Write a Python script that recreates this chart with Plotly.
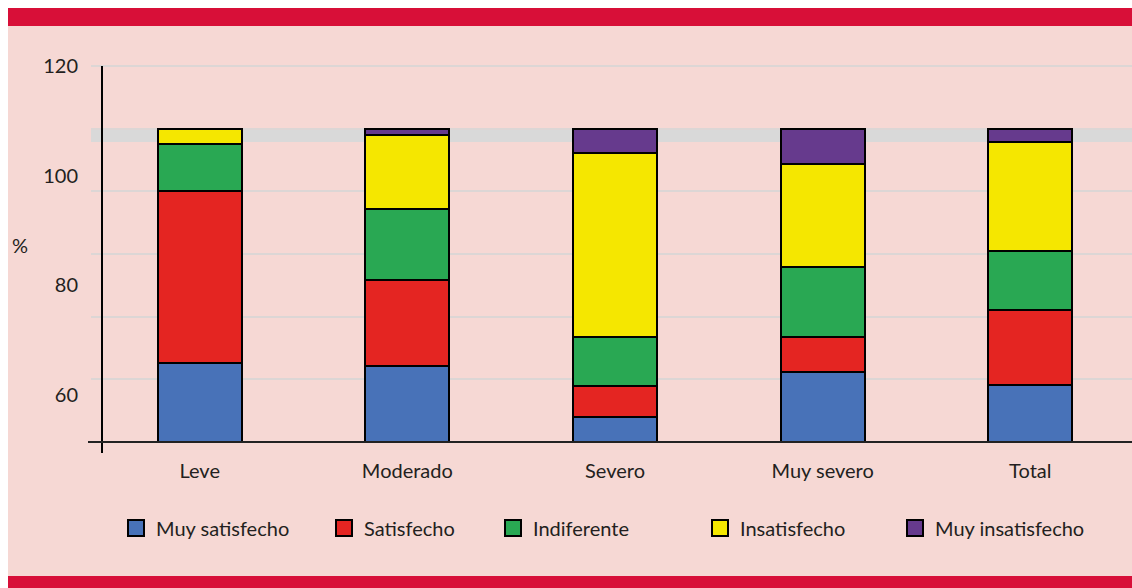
import plotly.graph_objects as go

categories = ["Leve", "Moderado", "Severo", "Muy severo", "Total"]
series_names = ["Muy satisfecho", "Satisfecho", "Indiferente", "Insatisfecho", "Muy insatisfecho"]
muy_satisfecho = [25.2, 24.2, 7.9, 22.3, 18.1]
satisfecho = [54.8, 27.6, 9.9, 11.1, 23.9]
indiferente = [15.0, 22.4, 15.6, 22.3, 18.8]
insatisfecho = [5.0, 23.9, 58.7, 33.0, 34.8]
muy_insatisfecho = [0.0, 1.9, 7.9, 11.3, 4.4]
y_tick_labels = [60, 80, 100, 120]

series_values = [muy_satisfecho, satisfecho, indiferente, insatisfecho, muy_insatisfecho]
colors = ["#4872b8", "#e42522", "#29a853", "#f5e700", "#663a8d"]

W, H = 1132, 588
L, R, T, B = 91, 0, 63, 146
PW = W - L - R
PH = H - T - B


def px_x(p):
    return (p - L) / PW


def px_y(p):
    return (H - B - p) / PH


FONT = "Lato"
TXT = "#231f20"

fig = go.Figure()
for name, vals, col in zip(series_names, series_values, colors):
    fig.add_trace(go.Bar(
        x=categories, y=vals, name=name, showlegend=False,
        marker=dict(color=col, line=dict(color="#000000", width=2)),
    ))

legend_x = [130, 338, 507, 714, 909]
for i, (name, col) in enumerate(zip(series_names, colors)):
    lg = "legend" if i == 0 else f"legend{i + 1}"
    fig.add_trace(go.Scatter(
        x=[None], y=[None], mode="markers", name=name, legend=lg, yaxis="y2",
        marker=dict(symbol="square", size=16, color=col, line=dict(color="#000000", width=2)),
    ))

legend_common = dict(
    orientation="h", yanchor="middle", y=px_y(528), xanchor="left",
    bgcolor="rgba(0,0,0,0)", borderwidth=0,
    font=dict(family=FONT, size=20, color=TXT),
)
legends = {}
for i, lx in enumerate(legend_x):
    key = "legend" if i == 0 else f"legend{i + 1}"
    legends[key] = dict(legend_common, x=px_x(lx - 14))

shapes = [
    dict(type="rect", xref="paper", yref="paper", x0=px_x(8), x1=px_x(1132), y0=px_y(588), y1=px_y(8),
         fillcolor="#f6d8d4", line_width=0, layer="below"),
    dict(type="rect", xref="paper", yref="paper", x0=px_x(8), x1=px_x(1132), y0=px_y(26), y1=px_y(8),
         fillcolor="#d80f38", line_width=0, layer="below"),
    dict(type="rect", xref="paper", yref="paper", x0=px_x(8), x1=px_x(1132), y0=px_y(588), y1=px_y(576),
         fillcolor="#d80f38", line_width=0, layer="below"),
    dict(type="rect", xref="paper", yref="y", x0=0, x1=1, y0=95.7, y1=100.1,
         fillcolor="#d9d9d9", line_width=0, layer="below"),
    dict(type="line", xref="paper", yref="paper", x0=px_x(102), x1=px_x(102), y0=px_y(453), y1=px_y(66),
         line=dict(color="#000000", width=2)),
    dict(type="line", xref="paper", yref="paper", x0=px_x(88), x1=1, y0=0, y1=0,
         line=dict(color="#222222", width=2)),
]

fig.update_layout(
    width=W, height=H,
    margin=dict(l=L, r=R, t=T, b=B),
    paper_bgcolor="#ffffff",
    plot_bgcolor="rgba(0,0,0,0)",
    barmode="stack",
    bargap=0.595,
    font=dict(family=FONT, size=20, color=TXT),
    xaxis=dict(
        range=[-0.5235, 4.4898], showgrid=False, zeroline=False, showline=False,
        ticks="", ticklabelstandoff=15, tickfont=dict(family=FONT, size=20, color=TXT),
    ),
    yaxis=dict(
        range=[0, 120.94], dtick=20, tick0=0, showgrid=True, gridcolor="#dcd6d5", gridwidth=2,
        zeroline=False, showline=False, showticklabels=False, ticks="",
    ),
    yaxis2=dict(
        overlaying="y", side="left", anchor="free", position=0,
        range=[51.43, 120.53], tickvals=y_tick_labels, ticktext=[str(v) for v in y_tick_labels],
        showgrid=False, zeroline=False, showline=False, ticks="", ticklabelstandoff=13,
        tickfont=dict(family=FONT, size=20, color=TXT),
    ),
    shapes=shapes,
    annotations=[dict(text="%", xref="paper", yref="paper", x=px_x(10), y=px_y(245),
                      showarrow=False, font=dict(family=FONT, size=20, color=TXT))],
    **legends,
)

fig.write_html("out.html")
